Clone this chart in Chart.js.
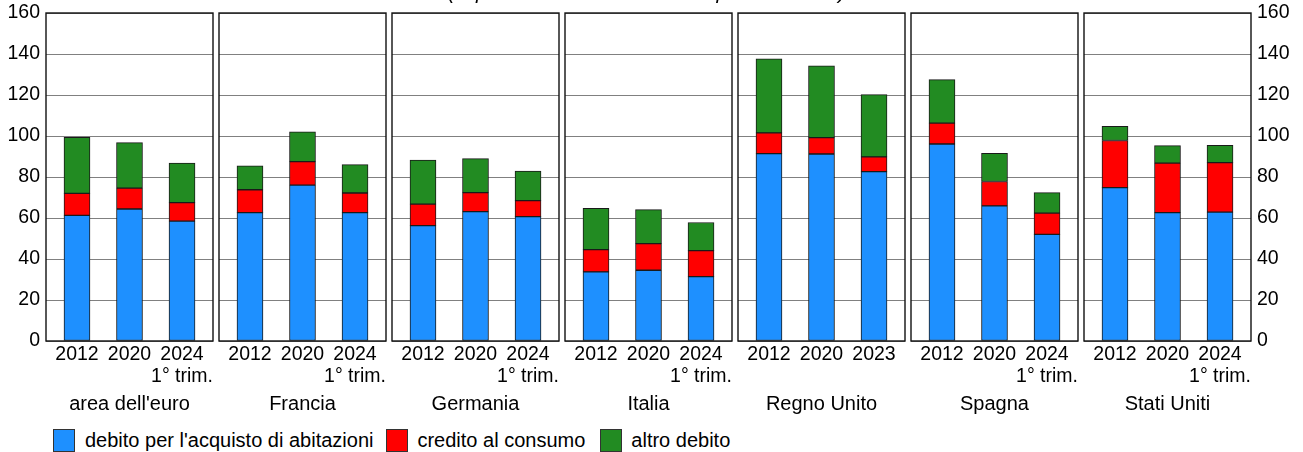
<!DOCTYPE html>
<html><head><meta charset="utf-8">
<script src="https://cdn.jsdelivr.net/npm/chart.js@4.4.1/dist/chart.umd.min.js"></script>
<style>
html,body{margin:0;padding:0;background:#fff;width:1303px;height:452px;overflow:hidden;font-family:"Liberation Sans",Arial,sans-serif;}
canvas{position:absolute;top:0;}
#title{position:absolute;left:44px;width:1205px;top:-20px;text-align:center;font-style:italic;font-size:20.5px;line-height:23px;color:#000;white-space:nowrap;}
#legend{position:absolute;left:0;top:429px;height:23px;display:flex;align-items:center;font-size:20px;color:#000;line-height:23px;white-space:nowrap;}
.item{display:flex;align-items:center;}
.sw{width:22px;height:23px;border:1px solid #333;box-sizing:border-box;}
</style></head><body>
<div id="wrap"></div>
<div id="title">(in percentuale del reddito disponibile lordo)</div>
<div id="legend"></div>
<script>
const countries = ["area dell'euro","Francia","Germania","Italia","Regno Unito","Spagna","Stati Uniti"];
const tickLabels = [
  ["2012","2020",["2024","1° trim."]],
  ["2012","2020",["2024","1° trim."]],
  ["2012","2020",["2024","1° trim."]],
  ["2012","2020",["2024","1° trim."]],
  ["2012","2020","2023"],
  ["2012","2020",["2024","1° trim."]],
  ["2012","2020",["2024","1° trim."]]
];
const seriesNames = ["debito per l'acquisto di abitazioni","credito al consumo","altro debito"];
const seriesColors = ["#1E90FF","#FF0000","#228B22"];
const housing  = [[61.3,64.4,58.5],[62.6,76.0,62.6],[56.3,63.1,60.7],[33.7,34.5,31.4],[91.4,91.2,82.6],[96.1,65.9,52.0],[74.8,62.6,62.9]];
const consumer = [[10.7,10.2,9.0],[11.2,11.5,9.6],[10.5,9.3,7.8],[10.9,13.0,12.7],[10.1,8.0,7.2],[10.2,11.9,10.4],[23.0,24.2,24.1]];
const other    = [[27.4,22.2,19.3],[11.6,14.5,13.8],[21.5,16.6,14.4],[20.1,16.6,13.7],[36.1,35.0,30.4],[21.2,13.8,10.0],[6.9,8.5,8.5]];
const yTicks = {min:0,max:160,step:20};

const series = [housing, consumer, other];
const FAMILY = "'Liberation Sans', Arial, sans-serif";
const H = 420, PANEL_W = 167, GAP = 6, LEFT0 = 46, TOP = 13, BOTTOM = 341;

const framePlugin = {
  id:'frame',
  afterDraw(chart){
    const {ctx, chartArea:a} = chart;
    ctx.save();
    ctx.strokeStyle = '#111';
    ctx.lineWidth = 1.4;
    ctx.strokeRect(a.left, a.top, a.right-a.left, a.bottom-a.top);
    ctx.restore();
  }
};

const wrap = document.getElementById('wrap');
countries.forEach((country, i) => {
  const panelLeft = LEFT0 + i*(PANEL_W+GAP);
  let canvasLeft, canvasW, padL, padR, yPos = 'left', yW, showY = false;
  if (i === 0) { canvasLeft = 0; canvasW = panelLeft + PANEL_W + 4; padL = 0; padR = 4; yW = panelLeft; showY = true; }
  else if (i === countries.length-1) { canvasLeft = panelLeft - 3; canvasW = 1303 - canvasLeft; padL = 3; padR = 0; yPos = 'right'; yW = canvasW - 3 - PANEL_W; showY = true; }
  else { canvasLeft = panelLeft - 3; canvasW = PANEL_W + 7; padL = 3; padR = 4; yW = 0; }
  const cv = document.createElement('canvas');
  cv.width = canvasW; cv.height = H;
  cv.style.left = canvasLeft + 'px';
  cv.style.width = canvasW + 'px'; cv.style.height = H + 'px';
  wrap.appendChild(cv);
  const labels = tickLabels[i];
  new Chart(cv, {
    type:'bar',
    data:{
      datasets: series.map((s, k) => ({
        label: seriesNames[k],
        data: s[i].map((v, j) => ({x:j, y:v})),
        backgroundColor: seriesColors[k],
        borderColor: '#1a1a1a',
        borderWidth: 1,
        borderSkipped: false,
        barThickness: 26
      }))
    },
    options:{
      responsive:false, animation:false, devicePixelRatio:1,
      layout:{padding:{left:padL, right:padR, top:TOP, bottom:0}},
      plugins:{legend:{display:false}, tooltip:{enabled:false}},
      scales:{
        x:{
          type:'linear', stacked:true, min:-0.59, max:2.59, offset:false,
          afterBuildTicks: sc => { sc.ticks = labels.map((_, j) => ({value:j})); },
          afterFit: sc => { sc.height = H - BOTTOM; sc.paddingLeft = 0; sc.paddingRight = 0; },
          grid:{display:false, drawTicks:false, offset:false},
          border:{display:false},
          ticks:{
            callback: v => labels[v],
            font:{family:FAMILY, size:19.5, lineHeight:1.11}, color:'#000', padding:3, maxRotation:0, autoSkip:false
          },
          title:{display:true, text:country, font:{family:FAMILY, size:20}, color:'#000', padding:{top:0,bottom:4}}
        },
        y:{
          position:yPos, stacked:true, min:yTicks.min, max:yTicks.max,
          afterFit: sc => { sc.width = yW; sc.paddingTop = 0; sc.paddingBottom = 0; },
          grid:{color:'#808080', lineWidth:1, drawTicks:false},
          border:{display:false},
          ticks:{display:showY, stepSize:yTicks.step, font:{family:FAMILY, size:19.5}, color:'#000', padding:6}
        }
      }
    },
    plugins:[framePlugin]
  });
});

const lg = document.getElementById('legend');
const swLeft = [53, 13, 15];
const txGap = [10, 9, 9];
seriesNames.forEach((n, k) => {
  const it = document.createElement('div'); it.className = 'item';
  it.style.marginLeft = swLeft[k] + 'px';
  const sw = document.createElement('div'); sw.className = 'sw'; sw.style.background = seriesColors[k];
  sw.style.marginRight = txGap[k] + 'px';
  const tx = document.createElement('span'); tx.textContent = n;
  it.appendChild(sw); it.appendChild(tx); lg.appendChild(it);
});
</script>
</body></html>
